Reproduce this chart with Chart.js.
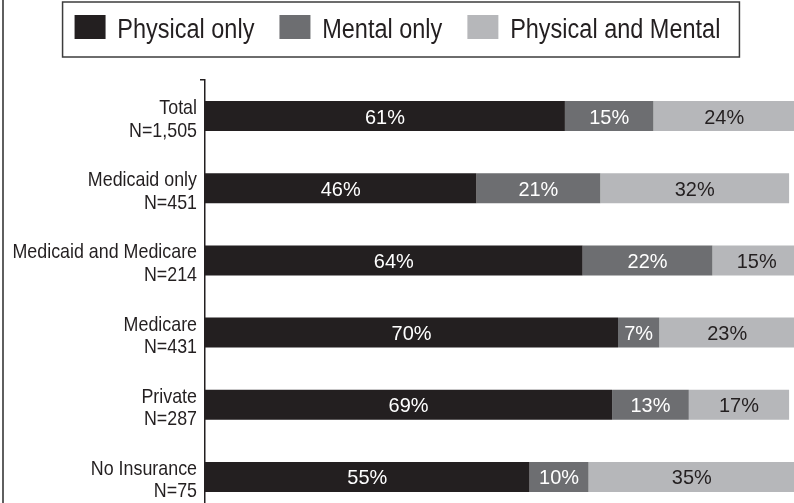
<!DOCTYPE html>
<html>
<head>
<meta charset="utf-8">
<script src="https://cdn.jsdelivr.net/npm/chart.js@4/dist/chart.umd.min.js"></script>
<style>
  html, body { margin: 0; padding: 0; background: #fff; overflow: hidden; width: 794px; height: 503px; }
  #frame { position: absolute; left: 2px; top: 0; width: 2px; height: 503px; background: #5f5f5f; z-index: 2; }
  #wrap { position: absolute; left: 0; top: -10px; width: 800px; height: 526px; }
</style>
</head>
<body>
<div id="frame"></div>
<div id="wrap"><canvas id="chart"></canvas></div>
<script>
// Coverage groups (two-line axis labels) and share of each condition type, in percent
const categories = [
  ['Total', 'N=1,505'],
  ['Medicaid only', 'N=451'],
  ['Medicaid and Medicare', 'N=214'],
  ['Medicare', 'N=431'],
  ['Private', 'N=287'],
  ['No Insurance', 'N=75']
];
const seriesNames = ['Physical only', 'Mental only', 'Physical and Mental'];
const physicalOnly = [61, 46, 64, 70, 69, 55];
const mentalOnly = [15, 21, 22, 7, 13, 10];
const physicalAndMental = [24, 32, 15, 23, 17, 35];

const FONT = "'Liberation Sans', Arial, sans-serif";
const INK = '#231f20';
const fills = ['#231f20', '#6d6e71', '#b6b7ba'];
const labelInk = ['#ffffff', '#ffffff', '#231f20'];

// Text in a condensed style: the face is squeezed horizontally by sx
function condensedText(ctx, text, x, y, size, sx, align, color) {
  ctx.save();
  ctx.translate(x, y);
  ctx.scale(sx, 1);
  ctx.font = size + 'px ' + FONT;
  ctx.textAlign = align;
  ctx.textBaseline = 'alphabetic';
  ctx.fillStyle = color;
  ctx.fillText(text, 0, 0);
  ctx.restore();
}

// Percent labels centred in every segment
const segmentLabels = {
  id: 'segmentLabels',
  afterDatasetsDraw(chart) {
    const ctx = chart.ctx;
    chart.data.datasets.forEach((ds, i) => {
      const meta = chart.getDatasetMeta(i);
      meta.data.forEach((bar, j) => {
        const cx = (bar.x + bar.base) / 2;
        condensedText(ctx, ds.data[j] + '%', cx, bar.y + 7.5, 21, 0.95, 'center', labelInk[i]);
      });
    });
  }
};

// Two-line category names beside the axis
const categoryNames = {
  id: 'categoryNames',
  afterDraw(chart) {
    const scale = chart.scales.y;
    const ctx = chart.ctx;
    const x = scale.right - 8;
    chart.data.labels.forEach((lines, i) => {
      const cy = scale.getPixelForTick(i);
      condensedText(ctx, lines[0], x, cy - 2, 21, 0.85, 'right', INK);
      condensedText(ctx, lines[1], x, cy + 20.5, 21, 0.85, 'right', INK);
    });
  }
};

// Extra room under the legend, legend captions and a frame around the items
const legendFrame = {
  id: 'legendFrame',
  beforeInit(chart) {
    const legend = chart.legend;
    const fit = legend.fit;
    legend.fit = function () {
      fit.call(this);
      this.height = 90;
    };
  },
  afterDraw(chart) {
    const legend = chart.legend;
    const boxes = legend && legend.legendHitBoxes;
    if (!boxes || !boxes.length) return;
    const ctx = chart.ctx;
    const opts = legend.options.labels;
    boxes.forEach((hb, i) => {
      const tx = hb.left + opts.boxWidth + opts.font.size / 2;
      condensedText(ctx, legend.legendItems[i].text, tx, hb.top + 22.5, 27, 0.87, 'left', INK);
    });
    const first = boxes[0];
    const last = boxes[boxes.length - 1];
    ctx.save();
    ctx.strokeStyle = '#3c3c3c';
    ctx.lineWidth = 1.5;
    const l = first.left - 12;
    const r = last.left + last.width + 19;
    const t = first.top - 13;
    const b = first.top + first.height + 18;
    ctx.strokeRect(l, t, r - l, b - t);
    ctx.restore();
  }
};

new Chart(document.getElementById('chart'), {
  type: 'bar',
  data: {
    labels: categories,
    datasets: [
      { label: seriesNames[0], data: physicalOnly, backgroundColor: fills[0] },
      { label: seriesNames[1], data: mentalOnly, backgroundColor: fills[1] },
      { label: seriesNames[2], data: physicalAndMental, backgroundColor: fills[2] }
    ]
  },
  options: {
    indexAxis: 'y',
    responsive: true,
    maintainAspectRatio: false,
    animation: false,
    layout: { padding: { top: 0, right: 5, bottom: 3, left: 0 } },
    datasets: {
      bar: { categoryPercentage: 1, barPercentage: 0.415, borderWidth: 0 }
    },
    scales: {
      x: {
        stacked: true,
        min: 0,
        max: 100,
        display: false
      },
      y: {
        stacked: true,
        afterFit(scale) {
          scale.width = 205;
          scale.paddingTop = 0;
          scale.paddingBottom = 0;
        },
        border: { display: true, color: INK, width: 1.5 },
        grid: {
          drawOnChartArea: false,
          tickLength: 5,
          lineWidth: 1.5,
          color: (c) => (c.index === 0 ? INK : 'rgba(0,0,0,0)')
        },
        ticks: {
          padding: 3,
          crossAlign: 'near',
          color: 'rgba(0,0,0,0)',
          font: { family: FONT, size: 18, lineHeight: 1.17 }
        }
      }
    },
    plugins: {
      legend: {
        position: 'top',
        labels: {
          boxWidth: 31,
          boxHeight: 24,
          padding: 25,
          color: 'rgba(0,0,0,0)',
          font: { family: FONT, size: 23.5 }
        }
      },
      tooltip: { enabled: false }
    }
  },
  plugins: [segmentLabels, categoryNames, legendFrame]
});
</script>
</body>
</html>
